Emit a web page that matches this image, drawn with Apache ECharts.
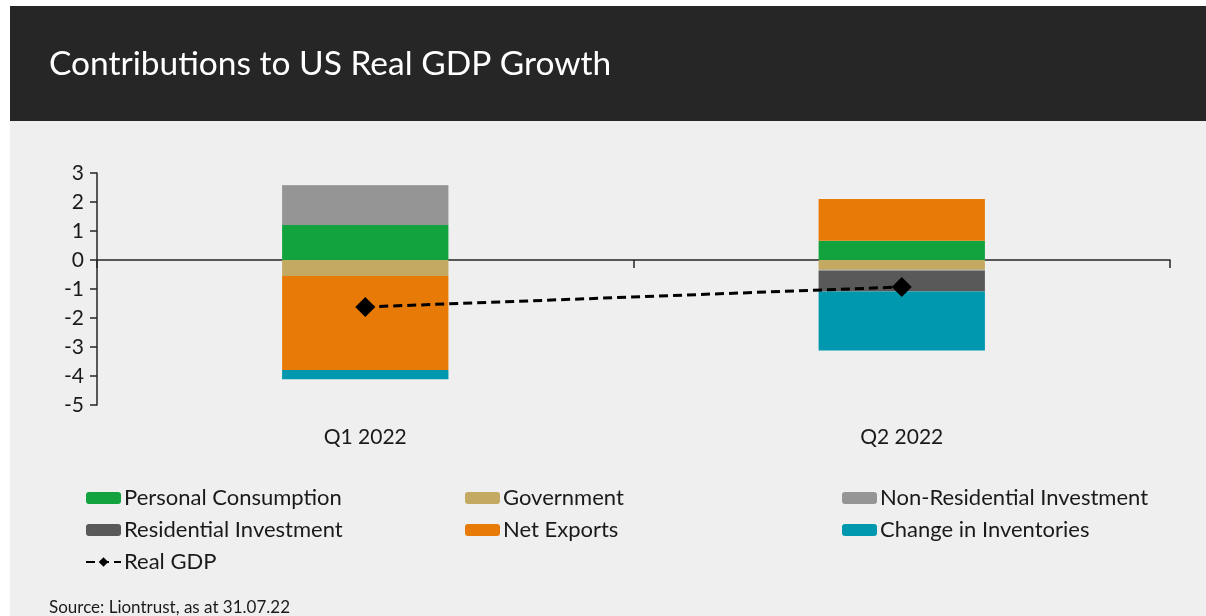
<!DOCTYPE html>
<html>
<head>
<meta charset="utf-8">
<script src="https://cdn.jsdelivr.net/npm/echarts@6/dist/echarts.min.js"></script>
<style>
html,body{margin:0;padding:0;background:#ffffff;}
#c{width:1206px;height:616px;}
</style>
</head>
<body>
<div id="c"></div>
<script>
const categories = ['Q1 2022', 'Q2 2022'];
const personalConsumption = [1.21, 0.66];
const government = [-0.55, -0.34];
const nonResidential = [1.33, -0.03];
const residential = [0.03, -0.72];
const netExports = [-3.24, 1.44];
const inventories = [-0.32, -2.03];
const realGDP = [-1.62, -0.93];
const yTicks = [-5, -4, -3, -2, -1, 0, 1, 2, 3];

const FONT = 'Lato';
const chart = echarts.init(document.getElementById('c'), null, {renderer: 'canvas'});

function bar(name, data, color) {
  return {
    name: name, type: 'bar', stack: 'gdp', data: data, barWidth: '31%',
    itemStyle: {color: color}, xAxisIndex: 0, yAxisIndex: 0, z: 2
  };
}

const legendCommon = {
  orient: 'vertical', itemWidth: 35, itemHeight: 12, itemGap: 10,
  textStyle: {fontFamily: FONT, fontSize: 22, color: '#1a1a1a', lineHeight: 22, padding: [0,0,0,-2]},
  selectedMode: false, padding: 0
};

chart.setOption({
  backgroundColor: '#ffffff',
  animation: false,
  graphic: [
    {type: 'rect', left: 10, top: 121, shape: {width: 1196, height: 495}, style: {fill: '#efefef'}, silent: true, z: -10},
    {type: 'rect', left: 10, top: 6, shape: {width: 1196, height: 115}, style: {fill: '#262626'}, silent: true, z: -10}
  ],
  title: [
    {text: 'Contributions to US Real GDP Growth', left: 44, top: 42,
     textStyle: {fontFamily: FONT, fontSize: 33.5, fontWeight: 'normal', color: '#ffffff'}},
    {text: 'Source: Liontrust, as at 31.07.22', left: 44, top: 594,
     textStyle: {fontFamily: FONT, fontSize: 17, fontWeight: 'normal', color: '#1a1a1a'}}
  ],
  legend: [
    Object.assign({left: 85, top: 487, data: ['Personal Consumption', 'Residential Investment', 'Real GDP']}, legendCommon),
    Object.assign({left: 465, top: 487, data: ['Government', 'Net Exports']}, legendCommon),
    Object.assign({left: 842, top: 487, data: ['Non-Residential Investment', 'Change in Inventories']}, legendCommon)
  ],
  grid: {left: 97, right: 36, top: 173, bottom: 211},
  xAxis: [
    {type: 'category', data: categories, position: 'bottom',
     axisLine: {show: false, onZero: false}, axisTick: {show: false},
     axisLabel: {fontFamily: FONT, fontSize: 21, color: '#1a1a1a', margin: 22}},
    {type: 'category', data: categories, position: 'bottom',
     axisLine: {show: true, onZero: true, lineStyle: {color: '#262626', width: 1.5}},
     axisTick: {show: true, length: 8, lineStyle: {color: '#262626', width: 1.5}},
     axisLabel: {show: false}}
  ],
  yAxis: {
    type: 'value', min: -5, max: 3, interval: 1,
    axisLine: {show: true, lineStyle: {color: '#262626', width: 1.5}},
    axisTick: {show: true, length: 7, lineStyle: {color: '#262626', width: 1.5}},
    axisLabel: {fontFamily: FONT, fontSize: 21, color: '#1a1a1a', margin: 13,
      formatter: v => yTicks.includes(v) ? String(v) : ''},
    splitLine: {show: false}
  },
  series: [
    bar('Personal Consumption', personalConsumption, '#12A33E'),
    bar('Government', government, '#C3A962'),
    bar('Non-Residential Investment', nonResidential, '#959595'),
    bar('Residential Investment', residential, '#595959'),
    bar('Net Exports', netExports, '#E87A07'),
    bar('Change in Inventories', inventories, '#0098AE'),
    {name: 'Real GDP', type: 'line', data: realGDP, xAxisIndex: 0, yAxisIndex: 0, z: 5,
     symbol: 'diamond', symbolSize: 20,
     itemStyle: {color: '#000000'},
     lineStyle: {color: '#000000', width: 3, type: [9, 5]}}
  ]
});
</script>
</body>
</html>
